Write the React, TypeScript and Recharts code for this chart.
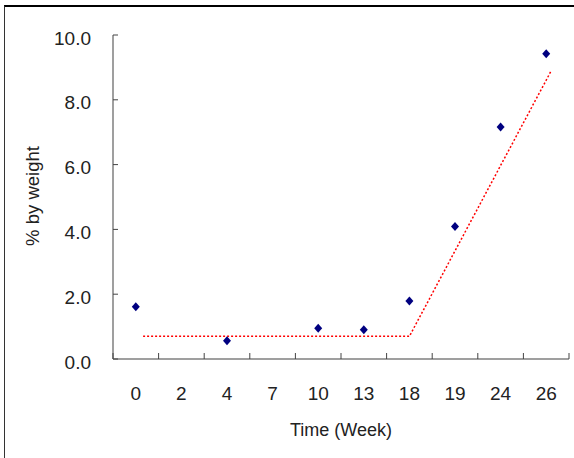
import { ComposedChart, Line, Scatter, XAxis, YAxis } from 'recharts';

// x positions are category indexes (0..9), labels come from weekLabels
const weekLabels = ['0', '2', '4', '7', '10', '13', '18', '19', '24', '26'];
const sampleIdx = [0, 2, 4, 5, 6, 7, 8, 9];
const sampleWt = [1.61, 0.56, 0.95, 0.9, 1.79, 4.09, 7.16, 9.42];
const fitIdx = [0.16, 6, 9.1];
const fitWt = [0.7, 0.7, 8.87];
const yTicks = [0, 2, 4, 6, 8, 10];

const FONT = '"Liberation Sans", Arial, sans-serif';
const TEXT = '#222';

const samples = sampleIdx.map((x, i) => ({ x, y: sampleWt[i] }));
const fit = fitIdx.map((x, i) => ({ x, y: fitWt[i] }));
// tick marks sit between categories, labels at the category centres
const xTicks = weekLabels.flatMap((_, i) => [i - 0.5, i]).concat(weekLabels.length - 0.5);

function XTick({ x, y, payload }: any) {
    const v = payload.value;
    if (Number.isInteger(v)) {
        return (
            <text x={x} y={y + 41} textAnchor="middle" fontSize={19} fontFamily={FONT} fill={TEXT}>
                {weekLabels[v]}
            </text>
        );
    }
    return <line x1={x} x2={x} y1={y} y2={y - 6} stroke="#444" strokeWidth={1} />;
}

function YTick({ x, y, payload }: any) {
    return (
        <g>
            <line x1={x} x2={x + 5} y1={y} y2={y} stroke="#444" strokeWidth={1} />
            <text x={x - 22} y={y + 9.5} textAnchor="end" fontSize={19} fontFamily={FONT} fill={TEXT}>
                {Number(payload.value).toFixed(1)}
            </text>
        </g>
    );
}

function Diamond({ cx, cy }: any) {
    return (
        <polygon
            points={`${cx},${cy - 4.5} ${cx + 4},${cy} ${cx},${cy + 4.5} ${cx - 4},${cy}`}
            fill="#000080"
        />
    );
}

export default function App() {
    return (
        <div
            style={{
                position: 'absolute',
                left: 0,
                top: 0,
                width: 574,
                height: 458,
                overflow: 'hidden',
                background: '#fff',
            }}
        >
            <div
                style={{
                    position: 'absolute',
                    left: 4,
                    top: 5,
                    width: 700,
                    height: 600,
                    borderTop: '2px solid #000',
                    borderLeft: '1.5px solid #333',
                }}
            />
            <ComposedChart
                width={574}
                height={458}
                margin={{ top: 35, right: 5, bottom: 69, left: 13 }}
                style={{ position: 'absolute', left: 0, top: 0 }}
            >
                <XAxis
                    dataKey="x"
                    type="number"
                    domain={[-0.5, weekLabels.length - 0.5]}
                    ticks={xTicks}
                    interval={0}
                    height={30}
                    tick={<XTick />}
                    tickLine={false}
                    tickSize={0}
                    tickMargin={0}
                    axisLine={{ stroke: '#7f7f7f', strokeWidth: 1.5 }}
                    allowDataOverflow
                />
                <YAxis
                    type="number"
                    domain={[0, 10]}
                    ticks={yTicks}
                    interval={0}
                    width={100}
                    tick={<YTick />}
                    tickLine={false}
                    tickSize={0}
                    tickMargin={0}
                    axisLine={{ stroke: '#7f7f7f', strokeWidth: 1.5 }}
                    allowDataOverflow
                />
                <Line
                    data={fit}
                    dataKey="y"
                    type="linear"
                    stroke="#ff0000"
                    strokeWidth={1.5}
                    strokeDasharray="2 2"
                    dot={false}
                    activeDot={false}
                    isAnimationActive={false}
                />
                <Scatter data={samples} dataKey="y" shape={<Diamond />} isAnimationActive={false} />
            </ComposedChart>
            <div
                style={{
                    position: 'absolute',
                    left: 241,
                    top: 421,
                    width: 200,
                    textAlign: 'center',
                    fontFamily: FONT,
                    fontSize: 18,
                    lineHeight: '18px',
                    color: TEXT,
                }}
            >
                Time (Week)
            </div>
            <div
                style={{
                    position: 'absolute',
                    left: 33 - 100,
                    top: 196 - 9,
                    width: 200,
                    textAlign: 'center',
                    fontFamily: FONT,
                    fontSize: 18.5,
                    lineHeight: '18px',
                    color: TEXT,
                    transform: 'rotate(-90deg)',
                }}
            >
                % by weight
            </div>
        </div>
    );
}
